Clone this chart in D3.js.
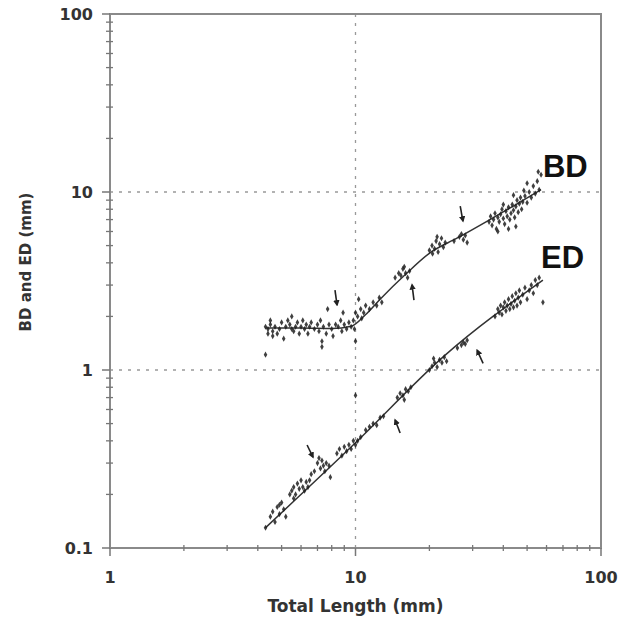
<!DOCTYPE html>
<html>
<head>
<meta charset="utf-8">
<script src="https://cdn.jsdelivr.net/npm/d3@7"></script>
<style>
  body { margin: 0; background: #fff; }
</style>
</head>
<body>
<div id="chart"></div>
<script>
// major tick labels
const xTicks = [1, 10, 100];
const yTicks = [0.1, 1, 10, 100];
const xLabels = ["1", "10", "100"];
const yLabels = ["0.1", "1", "10", "100"];

// fitted curves (total length, diameter)
const bdFit = [[4.3, 1.72], [6, 1.72], [8, 1.71], [9.6, 1.76], [11, 2.05], [12.6, 2.5], [16, 3.45],
  [20.1, 4.55], [25.9, 5.5], [35.3, 7.0], [45, 8.5], [57, 10.3]];
const edFit = [[4.3, 0.13], [10, 0.39], [23, 1.2], [58, 3.2]];

// body depth measurements
const bdPoints = [
  [4.3, 1.75], [4.4, 1.7], [4.5, 1.8], [4.6, 1.65], [4.5, 1.9], [4.7, 1.75], [4.8, 1.6], [4.9, 1.7],
  [5.0, 1.85], [4.4, 1.6], [4.3, 1.22], [4.6, 1.55], [5.1, 1.5], [5.2, 1.75], [5.3, 1.9], [5.4, 1.8],
  [5.5, 1.7], [5.6, 1.65], [5.5, 2.0], [5.7, 1.75], [5.8, 1.85], [5.9, 1.6], [6.0, 1.75], [6.1, 1.9],
  [6.2, 1.7], [6.3, 1.8], [6.4, 1.6], [6.5, 1.75], [6.6, 1.85], [6.8, 1.7], [7.0, 1.8], [7.1, 1.65],
  [7.2, 1.9], [7.3, 1.35], [7.3, 1.45], [7.4, 1.75], [7.6, 1.6], [7.8, 1.8], [8.0, 1.7], [8.1, 1.55],
  [8.3, 1.8], [8.5, 1.75], [8.7, 1.9], [8.8, 1.65], [9.0, 1.8], [9.2, 1.7], [9.4, 1.85], [9.6, 1.75],
  [9.8, 1.9], [10.0, 1.45], [9.9, 1.7], [10.0, 2.1], [10.2, 2.0], [10.5, 2.2], [10.3, 2.5], [10.8, 2.1],
  [11.0, 2.3], [11.4, 2.2], [11.8, 2.4], [12.2, 2.3], [12.5, 2.55], [12.8, 2.4], [10.6, 1.95], [8.9, 2.1],
  [7.7, 2.2], [14.5, 3.3], [15.0, 3.5], [15.3, 3.4], [15.6, 3.7], [16.0, 3.5], [16.3, 3.3], [16.6, 3.6],
  [15.8, 3.8], [20.0, 4.7], [20.5, 5.0], [21.0, 4.8], [21.3, 5.3], [21.7, 4.6], [22.0, 5.1], [22.4, 5.5],
  [22.8, 4.9], [23.2, 5.2], [21.5, 5.6], [20.6, 4.5], [25.2, 5.3], [26.5, 5.6], [27.0, 5.8], [27.5, 5.4],
  [28.0, 5.7], [28.5, 5.2], [35, 6.8], [35.5, 7.3], [36, 6.5], [36.5, 7.0], [37, 7.6], [37.5, 6.2],
  [38, 7.2], [38.5, 6.8], [39, 7.5], [39.5, 8.0], [40, 7.1], [40.5, 6.6], [41, 7.8], [41.5, 7.3],
  [42, 8.2], [42.5, 7.0], [43, 7.6], [43.5, 8.5], [44, 7.9], [44.5, 7.2], [45, 8.3], [45.5, 9.0],
  [46, 7.7], [46.5, 8.6], [47, 9.3], [47.5, 8.0], [48, 8.8], [48.5, 10.2], [49, 9.5], [50, 8.7],
  [51, 10.0], [52, 9.3], [53, 10.8], [54, 9.8], [55, 11.5], [56, 10.3], [57, 12.5], [55.5, 13],
  [45, 6.4], [42, 6.2], [38, 6.0], [40, 8.5], [44, 9.6], [50, 11.2]
];

// eye diameter measurements
const edPoints = [
  [4.3, 0.13], [4.5, 0.15], [4.6, 0.16], [4.7, 0.14], [4.8, 0.17], [4.9, 0.155], [5.0, 0.18], [5.1, 0.165],
  [5.2, 0.15], [4.9, 0.175], [5.4, 0.2], [5.5, 0.21], [5.6, 0.22], [5.7, 0.2], [5.8, 0.23], [5.9, 0.215],
  [6.0, 0.24], [6.1, 0.22], [6.2, 0.21], [6.3, 0.235], [6.4, 0.22], [6.5, 0.24], [5.6, 0.19], [6.6, 0.26],
  [6.8, 0.27], [7.0, 0.3], [7.1, 0.32], [7.2, 0.28], [7.3, 0.31], [7.4, 0.29], [7.5, 0.27], [7.6, 0.3],
  [7.8, 0.29], [7.9, 0.25], [8.4, 0.34], [8.6, 0.36], [8.8, 0.33], [9.0, 0.37], [9.2, 0.35], [9.4, 0.38],
  [9.6, 0.36], [9.8, 0.4], [10.0, 0.38], [10.2, 0.4], [10.5, 0.42], [10.0, 0.72], [11.0, 0.46], [11.4, 0.48],
  [11.8, 0.5], [12.2, 0.49], [12.6, 0.54], [13.0, 0.55], [14.8, 0.7], [15.2, 0.74], [15.6, 0.72], [16.0, 0.78],
  [16.4, 0.76], [16.8, 0.8], [15.8, 0.68], [20.0, 1.0], [20.5, 1.05], [21.0, 1.1], [21.5, 1.04], [22.0, 1.14],
  [22.5, 1.1], [23.0, 1.18], [23.5, 1.12], [20.8, 1.16], [26.0, 1.33], [27.0, 1.38], [27.5, 1.43], [28.0, 1.4],
  [28.5, 1.47], [37, 2.0], [38, 2.2], [38.5, 2.1], [39, 2.3], [39.5, 2.05], [40, 2.25], [40.5, 2.4],
  [41, 2.15], [41.5, 2.3], [42, 2.5], [42.5, 2.2], [43, 2.35], [43.5, 2.6], [44, 2.25], [44.5, 2.45],
  [45, 2.7], [45.5, 2.3], [46, 2.55], [46.5, 2.8], [47, 2.4], [48, 2.65], [49, 2.9], [50, 2.5],
  [51, 2.8], [52, 3.0], [53, 2.7], [54, 3.2], [55, 3.0], [56, 3.3], [58, 2.4]
];

// inflection arrows: [tailX, tailY, tipX, tipY]
const arrows = [
  [8.25, 2.81, 8.41, 2.32], [17.3, 2.47, 17.0, 3.01], [26.7, 8.34, 27.4, 6.87],
  [6.35, 0.379, 6.71, 0.324], [15.2, 0.443, 14.5, 0.524], [33.1, 1.09, 31.3, 1.29]
];

const seriesLabels = [{ name: "BD", at: [58, 12.1] }, { name: "ED", at: [57, 3.74] }];

const width = 635;
const height = 617;
const margin = { top: 14, right: 34, bottom: 69, left: 110 };

const svg = d3
  .select("#chart")
  .append("svg")
  .attr("width", width)
  .attr("height", height);

const x = d3.scaleLog().domain([1, 100]).range([margin.left, width - margin.right]);
const y = d3.scaleLog().domain([0.1, 100]).range([height - margin.bottom, margin.top]);

svg.append("defs")
  .append("marker")
  .attr("id", "head")
  .attr("viewBox", "0 0 8 8")
  .attr("refX", 6)
  .attr("refY", 4)
  .attr("markerWidth", 4)
  .attr("markerHeight", 4)
  .attr("orient", "auto")
  .append("path")
  .attr("d", "M0,0L8,4L0,8z")
  .attr("fill", "#222");

// dotted grid at the major decades
svg.append("g")
  .selectAll("line")
  .data([10])
  .enter()
  .append("line")
  .attr("x1", (d) => x(d))
  .attr("x2", (d) => x(d))
  .attr("y1", y(100))
  .attr("y2", y(0.1))
  .attr("stroke", "#999")
  .attr("stroke-width", 1.3)
  .attr("stroke-dasharray", "3,6");

svg.append("g")
  .selectAll("line")
  .data([1, 10])
  .enter()
  .append("line")
  .attr("x1", x(1))
  .attr("x2", x(100))
  .attr("y1", (d) => y(d))
  .attr("y2", (d) => y(d))
  .attr("stroke", "#999")
  .attr("stroke-width", 1.3)
  .attr("stroke-dasharray", "3,6");

// frame
svg.append("rect")
  .attr("x", x(1))
  .attr("y", y(100))
  .attr("width", x(100) - x(1))
  .attr("height", y(0.1) - y(100))
  .attr("fill", "none")
  .attr("stroke", "#8a8a8a")
  .attr("stroke-width", 2);

// y ticks
const yMinor = y.ticks().filter((d) => !yTicks.includes(d));
svg.append("g")
  .selectAll("line")
  .data(yMinor)
  .enter()
  .append("line")
  .attr("x1", x(1) - 4)
  .attr("x2", x(1) + 3)
  .attr("y1", (d) => y(d))
  .attr("y2", (d) => y(d))
  .attr("stroke", "#777")
  .attr("stroke-width", 1.3);
svg.append("g")
  .selectAll("line")
  .data(yTicks)
  .enter()
  .append("line")
  .attr("x1", x(1) - 8)
  .attr("x2", x(1))
  .attr("y1", (d) => y(d))
  .attr("y2", (d) => y(d))
  .attr("stroke", "#777")
  .attr("stroke-width", 1.5);

// x ticks
const xMinor = x.ticks().filter((d) => !xTicks.includes(d));
svg.append("g")
  .selectAll("line")
  .data(xMinor)
  .enter()
  .append("line")
  .attr("x1", (d) => x(d))
  .attr("x2", (d) => x(d))
  .attr("y1", y(0.1) - 3)
  .attr("y2", y(0.1) + 3)
  .attr("stroke", "#777")
  .attr("stroke-width", 1.3);
svg.append("g")
  .selectAll("line")
  .data(xTicks)
  .enter()
  .append("line")
  .attr("x1", (d) => x(d))
  .attr("x2", (d) => x(d))
  .attr("y1", y(0.1))
  .attr("y2", y(0.1) + 8)
  .attr("stroke", "#777")
  .attr("stroke-width", 1.5);

// tick labels
svg.append("g")
  .selectAll("text")
  .data(yTicks)
  .enter()
  .append("text")
  .attr("x", x(1) - 17)
  .attr("y", (d) => y(d) + 6)
  .attr("text-anchor", "end")
  .style("font-family", "DejaVu Sans, sans-serif")
  .style("font-weight", "bold")
  .style("font-size", "16px")
  .style("fill", "#333")
  .text((d, i) => yLabels[i]);

svg.append("g")
  .selectAll("text")
  .data(xTicks)
  .enter()
  .append("text")
  .attr("x", (d) => x(d))
  .attr("y", y(0.1) + 35)
  .attr("text-anchor", "middle")
  .style("font-family", "DejaVu Sans, sans-serif")
  .style("font-weight", "bold")
  .style("font-size", "16px")
  .style("fill", "#333")
  .text((d, i) => xLabels[i]);

// axis titles
svg.append("text")
  .attr("x", (x(1) + x(100)) / 2)
  .attr("y", y(0.1) + 64)
  .attr("text-anchor", "middle")
  .style("font-family", "DejaVu Sans, sans-serif")
  .style("font-weight", "bold")
  .style("font-size", "17px")
  .style("fill", "#333")
  .text("Total Length (mm)");

svg.append("text")
  .attr("transform", "translate(31,262) rotate(-90)")
  .attr("text-anchor", "middle")
  .style("font-family", "DejaVu Sans, sans-serif")
  .style("font-weight", "bold")
  .style("font-size", "15px")
  .style("fill", "#333")
  .text("BD and ED (mm)");

// fitted curves
const line = d3
  .line()
  .x((d) => x(d[0]))
  .y((d) => y(d[1]))
  .curve(d3.curveMonotoneX);

[bdFit, edFit].forEach((fit) => {
  svg.append("path")
    .datum(fit)
    .attr("d", line)
    .attr("fill", "none")
    .attr("stroke", "#333")
    .attr("stroke-width", 1.5);
});

// points
const symbol = d3.symbol().type(d3.symbolDiamond).size(11);
[bdPoints, edPoints].forEach((pts) => {
  svg.append("g")
    .selectAll("path")
    .data(pts)
    .enter()
    .append("path")
    .attr("d", symbol)
    .attr("transform", (d) => `translate(${x(d[0])},${y(d[1])})`)
    .attr("fill", "#1e1e1e")
    .attr("opacity", 0.85);
});

// arrows
svg.append("g")
  .selectAll("line")
  .data(arrows)
  .enter()
  .append("line")
  .attr("x1", (d) => x(d[0]))
  .attr("y1", (d) => y(d[1]))
  .attr("x2", (d) => x(d[2]))
  .attr("y2", (d) => y(d[3]))
  .attr("stroke", "#222")
  .attr("stroke-width", 1.6)
  .attr("marker-end", "url(#head)");

// series labels
svg.append("g")
  .selectAll("text")
  .data(seriesLabels)
  .enter()
  .append("text")
  .attr("x", (d) => x(d.at[0]))
  .attr("y", (d) => y(d.at[1]))
  .style("font-family", "Liberation Sans, Arial, sans-serif")
  .style("font-weight", "bold")
  .style("font-size", "31px")
  .style("fill", "#111")
  .text((d) => d.name);
</script>
</body>
</html>
